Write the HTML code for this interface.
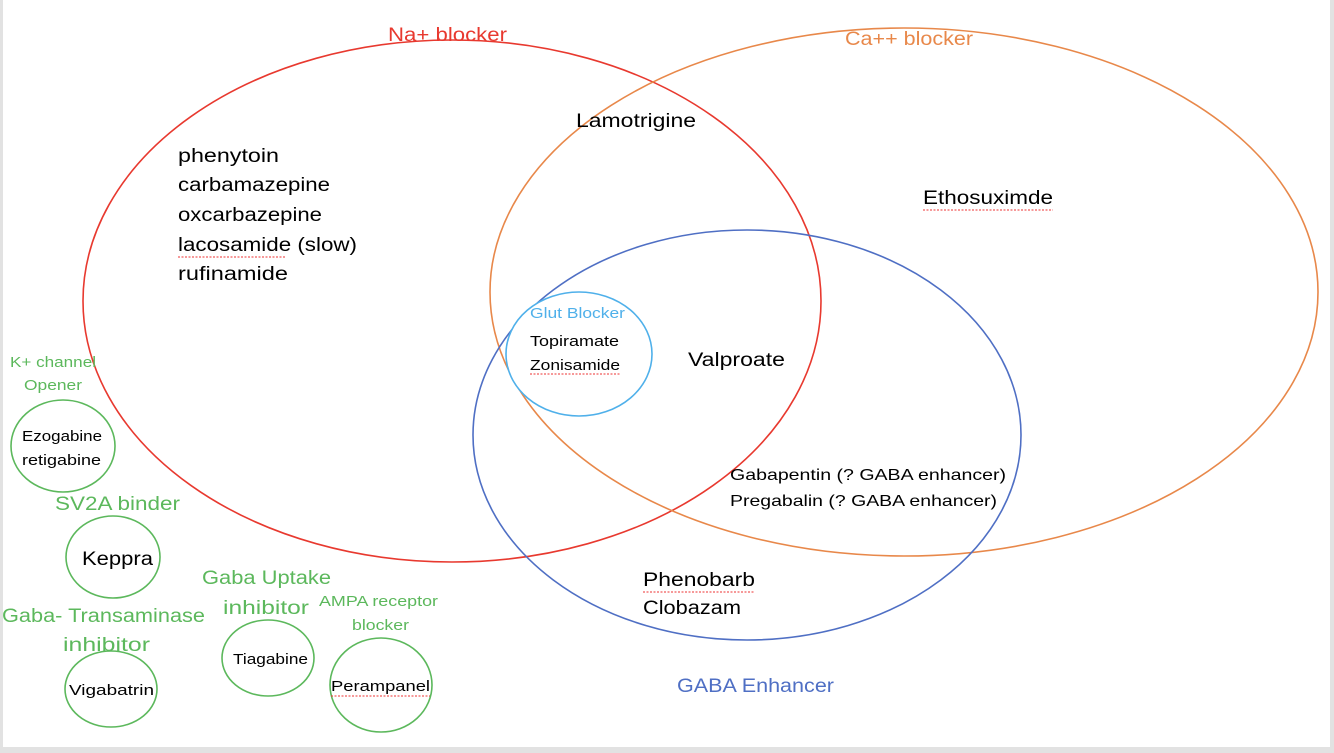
<!DOCTYPE html>
<html><head><meta charset="utf-8"><style>
html,body{margin:0;padding:0;background:#fff;}
svg{display:block;}
text{font-family:"Liberation Sans",sans-serif;}
</style></head><body>
<svg width="1334" height="753" viewBox="0 0 1334 753" xmlns="http://www.w3.org/2000/svg">
<rect width="1334" height="753" fill="#fff"/>
<rect x="0" y="0" width="3" height="753" fill="#e2e2e2"/>
<rect x="1330" y="0" width="4" height="753" fill="#e2e2e2"/>
<rect x="0" y="747" width="1334" height="6" fill="#e2e2e2"/>
<g fill="none" stroke-width="1.6">
<ellipse cx="452" cy="301" rx="369" ry="261" stroke="#e8392f"/>
<ellipse cx="904" cy="292" rx="414" ry="264" stroke="#e8884a"/>
<ellipse cx="747" cy="435" rx="274" ry="205" stroke="#4f6fc4"/>
<ellipse cx="579" cy="354" rx="73" ry="62" stroke="#4fb0ea" fill="#fff"/>
<g stroke="#5cb85c">
<ellipse cx="63" cy="446" rx="52" ry="46"/>
<ellipse cx="113" cy="557" rx="47" ry="41"/>
<ellipse cx="111" cy="689" rx="46" ry="38"/>
<ellipse cx="268" cy="658" rx="46" ry="38"/>
<ellipse cx="381" cy="685" rx="51" ry="47"/>
</g>
</g>
<g fill="#000" font-size="19">
<text x="178" y="162" textLength="101" lengthAdjust="spacingAndGlyphs">phenytoin</text>
<text x="178" y="191" textLength="152" lengthAdjust="spacingAndGlyphs">carbamazepine</text>
<text x="178" y="221" textLength="144" lengthAdjust="spacingAndGlyphs">oxcarbazepine</text>
<text x="178" y="251" textLength="179" lengthAdjust="spacingAndGlyphs">lacosamide (slow)</text>
<text x="178" y="280" textLength="110" lengthAdjust="spacingAndGlyphs">rufinamide</text>
<text x="576" y="127" textLength="120" lengthAdjust="spacingAndGlyphs">Lamotrigine</text>
<text x="923" y="204" textLength="130" lengthAdjust="spacingAndGlyphs">Ethosuximde</text>
<text x="688" y="366" textLength="97" lengthAdjust="spacingAndGlyphs">Valproate</text>
<text x="643" y="586" textLength="112" lengthAdjust="spacingAndGlyphs">Phenobarb</text>
<text x="643" y="614" textLength="98" lengthAdjust="spacingAndGlyphs">Clobazam</text>
<text x="82" y="565" textLength="71" lengthAdjust="spacingAndGlyphs">Keppra</text>
</g>
<g fill="#000" font-size="16">
<text x="730" y="480" textLength="276" lengthAdjust="spacingAndGlyphs">Gabapentin (? GABA enhancer)</text>
<text x="730" y="506" textLength="267" lengthAdjust="spacingAndGlyphs">Pregabalin (? GABA enhancer)</text>
</g>
<g fill="#000" font-size="14.5">
<text x="530" y="346" textLength="89" lengthAdjust="spacingAndGlyphs">Topiramate</text>
<text x="530" y="370" textLength="90" lengthAdjust="spacingAndGlyphs">Zonisamide</text>
<text x="22" y="441" textLength="80" lengthAdjust="spacingAndGlyphs">Ezogabine</text>
<text x="22" y="465" textLength="79" lengthAdjust="spacingAndGlyphs">retigabine</text>
<text x="233" y="664" textLength="75" lengthAdjust="spacingAndGlyphs">Tiagabine</text>
<text x="69" y="695" textLength="85" lengthAdjust="spacingAndGlyphs">Vigabatrin</text>
<text x="331" y="691" textLength="99" lengthAdjust="spacingAndGlyphs">Perampanel</text>
</g>
<text x="388" y="41" font-size="19" fill="#e8392f" textLength="119" lengthAdjust="spacingAndGlyphs">Na+ blocker</text>
<text x="845" y="45" font-size="19" fill="#e8884a" textLength="128" lengthAdjust="spacingAndGlyphs">Ca++ blocker</text>
<text x="677" y="692" font-size="19" fill="#4f6fc4" textLength="157" lengthAdjust="spacingAndGlyphs">GABA Enhancer</text>
<text x="530" y="318" font-size="14.5" fill="#4fb0ea" textLength="95" lengthAdjust="spacingAndGlyphs">Glut Blocker</text>
<g fill="#5cb85c">
<text x="10" y="367" font-size="14.5" textLength="86" lengthAdjust="spacingAndGlyphs">K+ channel</text>
<text x="24" y="390" font-size="14.5" textLength="58" lengthAdjust="spacingAndGlyphs">Opener</text>
<text x="55" y="510" font-size="19" textLength="125" lengthAdjust="spacingAndGlyphs">SV2A binder</text>
<text x="202" y="584" font-size="19" textLength="129" lengthAdjust="spacingAndGlyphs">Gaba Uptake</text>
<text x="223" y="614" font-size="19" textLength="86" lengthAdjust="spacingAndGlyphs">inhibitor</text>
<text x="319" y="606" font-size="14.5" textLength="119" lengthAdjust="spacingAndGlyphs">AMPA receptor</text>
<text x="352" y="630" font-size="14.5" textLength="57" lengthAdjust="spacingAndGlyphs">blocker</text>
<text x="2" y="622" font-size="19" textLength="203" lengthAdjust="spacingAndGlyphs">Gaba- Transaminase</text>
<text x="63" y="651" font-size="19" textLength="87" lengthAdjust="spacingAndGlyphs">inhibitor</text>
</g>
<g stroke="#e33" stroke-width="1" stroke-dasharray="2 1.5" fill="none">
<line x1="178" y1="257" x2="286" y2="257"/>
<line x1="923" y1="210" x2="1053" y2="210"/>
<line x1="530" y1="374" x2="620" y2="374"/>
<line x1="643" y1="592" x2="755" y2="592"/>
<line x1="331" y1="696" x2="430" y2="696"/>
</g>
</svg>
</body></html>
